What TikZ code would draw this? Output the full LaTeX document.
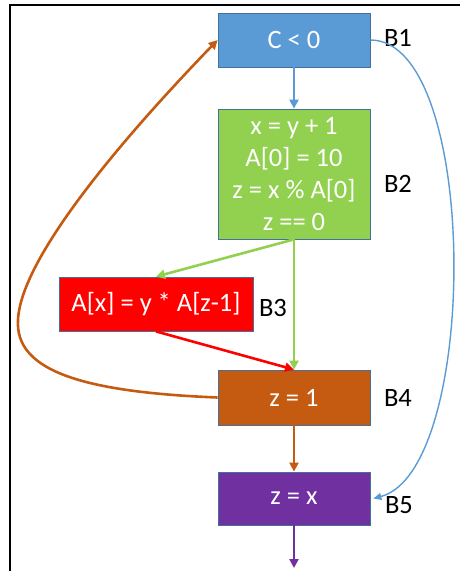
\documentclass[tikz,border=0pt]{standalone}
\usepackage{fontspec}
\setmainfont{Carlito}
\usetikzlibrary{arrows.meta}
\definecolor{cblue}{HTML}{5B9BD5}
\definecolor{cgreen}{HTML}{92D050}
\definecolor{cred}{HTML}{FF0000}
\definecolor{corange}{HTML}{C55A11}
\definecolor{cpurple}{HTML}{7030A0}
\definecolor{cedge}{HTML}{41719C}
\tikzset{
  blk/.style={draw=cedge, line width=0.8pt, minimum width=152pt, inner sep=0pt,
    text=white, font=\fontsize{26.5}{32}\selectfont, align=center},
  lbl/.style={font=\fontsize{26.5}{32}\selectfont, text=black, inner sep=0pt},
  arr/.style={-{Triangle[length=9pt,width=9pt]}, line width=2.6pt},
}
\begin{document}
\begin{tikzpicture}[x=1pt,y=-1pt]
\useasboundingbox (0,0) rectangle (460,571);
\draw[line width=2.2pt] (10,571) -- (10,5) -- (460,5);

\node[blk, fill=cblue, minimum height=54pt] (B1) at (294,40) {C < 0};
\node[blk, fill=cgreen, minimum height=130pt] (B2) at (294,174) {x = y + 1\\A[0] = 10\\z = x \% A[0]\\z == 0};
\node[blk, fill=cred, minimum width=194pt, minimum height=54pt] (B3) at (156,304) {A[x] = y * A[z-1]};
\node[blk, fill=corange, minimum height=55pt] (B4) at (294,397.5) {z = 1};
\node[blk, fill=cpurple, minimum height=53pt] (B5) at (294,498.5) {z = x};

\node[lbl] (L1) at (398,38) {B1};
\node[lbl] (L2) at (398,184) {B2};
\node[lbl] (L3) at (273,308) {B3};
\node[lbl] (L4) at (398,398) {B4};
\node[lbl] (L5) at (399,505) {B5};

\coordinate (out) at (294,568);

\draw[arr, cblue] (B1.south) -- (B2.north);
\draw[arr, cgreen] (B2.south) -- (B3.north);
\draw[arr, cgreen] (B2.south) -- (B4.north);
\draw[arr, cred] (B3.south) -- (B4.north);
\draw[arr, corange] (B4.south) -- (B5.north);
\draw[arr, cpurple] (B5.south) -- (out);
\draw[arr, corange] (B4.west) .. controls (80,392) and (15,370) .. (18,320)
  .. controls (21,250) and (150,110) .. (B1.west);
\draw[-{Triangle[length=8pt,width=7pt]}, line width=1.4pt, cblue] (B1.east) .. controls (480,40) and (480,470) .. ([xshift=3pt]B5.east);
\end{tikzpicture}
\end{document}
